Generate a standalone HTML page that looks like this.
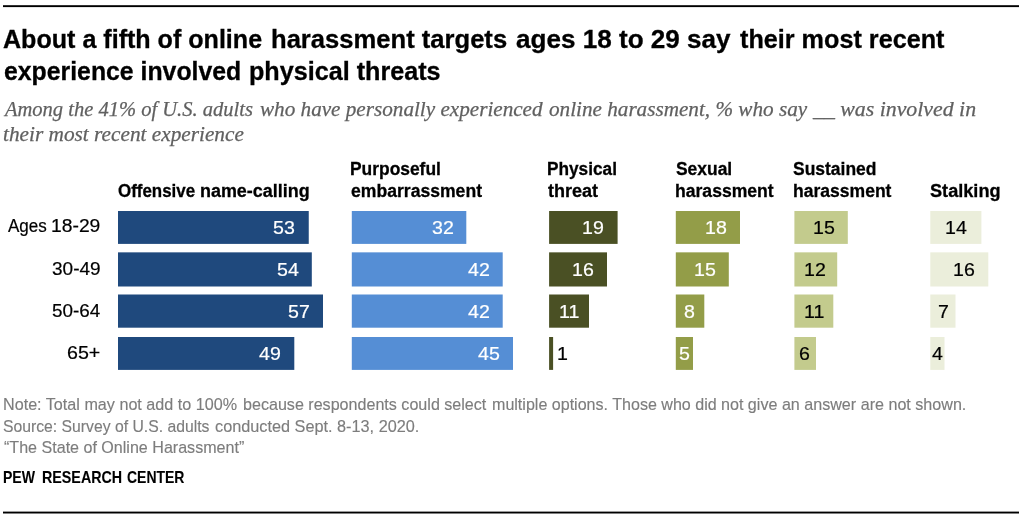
<!DOCTYPE html>
<html lang="en">
<head>
<meta charset="utf-8">
<title>About a fifth of online harassment targets ages 18 to 29 say their most recent experience involved physical threats</title>
<style>
html,body{margin:0;padding:0;background:#fff;}
body{width:1022px;height:519px;overflow:hidden;position:relative;font-family:"Liberation Sans", Arial, sans-serif;}
.chart{position:absolute;left:0;top:0;width:1022px;height:519px;overflow:hidden;will-change:transform;}
.bars{position:absolute;left:0;top:0;}
.t{position:absolute;white-space:nowrap;line-height:1;transform-origin:0 0;margin:0;padding:0;display:block;}
h1,p{margin:0;padding:0;font-size:inherit;font-weight:inherit;}
.title{font:normal 700 25.40px/1 "Liberation Sans", Arial, sans-serif;color:#000;-webkit-text-stroke:0.30px;}
.sub{font:italic 400 21.20px/1 "Liberation Serif", "DejaVu Serif", serif;color:#606060;-webkit-text-stroke:0.25px;}
.hdr{font:normal 700 18.30px/1 "Liberation Sans", Arial, sans-serif;color:#000;-webkit-text-stroke:0.30px;}
.row{font:normal 400 18.30px/1 "Liberation Sans", Arial, sans-serif;color:#000;-webkit-text-stroke:0.20px;}
.lab{font:normal 400 18.50px/1 "Liberation Sans", Arial, sans-serif;color:#fff;-webkit-text-stroke:0.20px;}
.note{font:normal 400 16.60px/1 "Liberation Sans", Arial, sans-serif;color:#7d7d7d;-webkit-text-stroke:0.15px;}
.pew{font:normal 700 16.50px/1 "Liberation Sans", Arial, sans-serif;color:#000;-webkit-text-stroke:0.10px;}
</style>
</head>
<body>
<div class="chart">
<svg class="bars" width="1022" height="519" viewBox="0 0 1022 519" aria-hidden="true"><rect x="3" y="5.20" width="1016" height="1.90" fill="#000"/><rect x="3" y="511.60" width="1016" height="1.90" fill="#000"/></svg>
<h1><span class="t title" style="left:3.00px;top:27.25px;transform:scaleX(0.9878);">About a fifth of online </span><span class="t title" style="left:270.99px;top:27.25px;transform:scaleX(1.0080);">harassment targets </span><span class="t title" style="left:515.50px;top:27.25px;transform:scaleX(1.0274);">ages 18 to 29 say </span><span class="t title" style="left:739.50px;top:27.25px;transform:scaleX(0.9925);">their most recent</span><span class="t title" style="left:3.75px;top:59.26px;transform:scaleX(0.9773);">experience involved </span><span class="t title" style="left:249.01px;top:59.26px;transform:scaleX(0.9911);">physical threats</span></h1>
<p><span class="t sub" style="left:4.84px;top:99.27px;transform:scaleX(0.9684);">Among the 41% of U.S. adults </span><span class="t sub" style="left:260.00px;top:99.27px;transform:scaleX(0.9986);">who have personally experienced </span><span class="t sub" style="left:548.75px;top:99.27px;transform:scaleX(0.9992);">online harassment, % who say </span><span class="t sub" style="left:813.03px;top:99.27px;transform:scaleX(1.0302);">__ was involved in</span><span class="t sub" style="left:3.00px;top:124.25px;transform:scaleX(1.0045);">their most recent experience</span></p>
<div class="plot">
<div class="t hdr" style="left:117.60px;top:182.25px;transform:scaleX(0.9249);">Offensive </div>
<div class="t hdr" style="left:199.52px;top:182.25px;transform:scaleX(0.9810);">name-calling</div>
<div class="t hdr" style="left:349.65px;top:160.26px;transform:scaleX(0.9518);">Purposeful</div>
<div class="t hdr" style="left:350.60px;top:182.25px;transform:scaleX(0.9620);">embarrassment</div>
<div class="t hdr" style="left:547.06px;top:160.26px;transform:scaleX(0.9430);">Physical</div>
<div class="t hdr" style="left:548.00px;top:182.25px;transform:scaleX(0.9861);">threat</div>
<div class="t hdr" style="left:675.60px;top:160.26px;transform:scaleX(0.9531);">Sexual</div>
<div class="t hdr" style="left:674.64px;top:182.25px;transform:scaleX(0.9617);">harassment</div>
<div class="t hdr" style="left:793.20px;top:160.26px;transform:scaleX(0.9548);">Sustained</div>
<div class="t hdr" style="left:792.64px;top:182.25px;transform:scaleX(0.9592);">harassment</div>
<div class="t hdr" style="left:929.60px;top:182.25px;transform:scaleX(0.9923);">Stalking</div>
<div><span class="t row" style="left:8.20px;top:217.26px;transform:scaleX(0.9319);">Ages </span><span class="t row" style="left:50.84px;top:217.26px;transform:scaleX(1.0551);">18-29</span></div>
<div class="t row" style="left:51.80px;top:260.25px;transform:scaleX(1.0389);">30-49</div>
<div class="t row" style="left:51.80px;top:302.25px;transform:scaleX(1.0324);">50-64</div>
<div class="t row" style="left:67.00px;top:344.26px;transform:scaleX(1.0747);">65+</div>
<svg class="bars" width="1022" height="519" viewBox="0 0 1022 519" aria-hidden="true">
<g fill="#1F497D">
<rect x="118.00" y="211.00" width="190.75" height="32.90"/>
<rect x="118.00" y="252.35" width="193.80" height="34.15"/>
<rect x="118.00" y="294.50" width="205.00" height="33.20"/>
<rect x="118.00" y="337.00" width="176.30" height="32.90"/>
</g>
<g fill="#558ED5">
<rect x="351.80" y="211.00" width="114.50" height="32.90"/>
<rect x="351.80" y="252.35" width="150.90" height="34.15"/>
<rect x="351.80" y="294.50" width="150.90" height="33.20"/>
<rect x="351.80" y="337.00" width="161.20" height="32.90"/>
</g>
<g fill="#4A5024">
<rect x="549.10" y="211.00" width="68.50" height="32.90"/>
<rect x="549.10" y="252.35" width="57.90" height="34.15"/>
<rect x="549.10" y="294.50" width="39.90" height="33.20"/>
<rect x="549.10" y="337.00" width="4.00" height="32.90"/>
</g>
<g fill="#939D48">
<rect x="675.80" y="211.00" width="64.20" height="32.90"/>
<rect x="675.80" y="252.35" width="53.00" height="34.15"/>
<rect x="675.80" y="294.50" width="28.50" height="33.20"/>
<rect x="675.80" y="337.00" width="17.20" height="32.90"/>
</g>
<g fill="#C3CB8D">
<rect x="794.40" y="211.00" width="53.40" height="32.90"/>
<rect x="794.40" y="252.35" width="42.80" height="34.15"/>
<rect x="794.40" y="294.50" width="38.90" height="33.20"/>
<rect x="794.40" y="337.00" width="21.60" height="32.90"/>
</g>
<g fill="#EBEEDB">
<rect x="930.30" y="211.00" width="51.10" height="32.90"/>
<rect x="930.30" y="252.35" width="58.00" height="34.15"/>
<rect x="930.30" y="294.50" width="25.20" height="33.20"/>
<rect x="930.30" y="337.00" width="14.20" height="32.90"/>
</g>
</svg>
<div class="t lab" style="left:273.49px;top:219.26px;transform:scaleX(1.0600);">53</div>
<div class="t lab" style="left:277.24px;top:261.26px;transform:scaleX(1.0600);">54</div>
<div class="t lab" style="left:287.74px;top:303.26px;transform:scaleX(1.0600);">57</div>
<div class="t lab" style="left:258.99px;top:345.26px;transform:scaleX(1.0600);">49</div>
<div class="t lab" style="left:431.74px;top:219.26px;transform:scaleX(1.0600);">32</div>
<div class="t lab" style="left:467.99px;top:261.26px;transform:scaleX(1.0600);">42</div>
<div class="t lab" style="left:467.99px;top:303.26px;transform:scaleX(1.0600);">42</div>
<div class="t lab" style="left:477.99px;top:345.26px;transform:scaleX(1.0600);">45</div>
<div class="t lab" style="left:582.49px;top:219.26px;transform:scaleX(1.0600);">19</div>
<div class="t lab" style="left:571.99px;top:261.26px;transform:scaleX(1.0600);">16</div>
<div class="t lab" style="left:558.82px;top:303.26px;transform:scaleX(1.0600);">11</div>
<div class="t lab" style="left:557.04px;top:345.26px;transform:scaleX(1.0600);color:#000;">1</div>
<div class="t lab" style="left:705.24px;top:219.26px;transform:scaleX(1.0600);">18</div>
<div class="t lab" style="left:693.99px;top:261.26px;transform:scaleX(1.0600);">15</div>
<div class="t lab" style="left:684.33px;top:303.26px;transform:scaleX(1.0600);">8</div>
<div class="t lab" style="left:678.70px;top:345.26px;transform:scaleX(1.0600);">5</div>
<div class="t lab" style="left:812.99px;top:219.26px;transform:scaleX(1.0600);color:#000;">15</div>
<div class="t lab" style="left:804.49px;top:261.26px;transform:scaleX(1.0600);color:#000;">12</div>
<div class="t lab" style="left:803.69px;top:303.26px;transform:scaleX(1.0600);color:#000;">11</div>
<div class="t lab" style="left:799.45px;top:345.26px;transform:scaleX(1.0600);color:#000;">6</div>
<div class="t lab" style="left:944.74px;top:219.26px;transform:scaleX(1.0600);color:#000;">14</div>
<div class="t lab" style="left:953.24px;top:261.26px;transform:scaleX(1.0600);color:#000;">16</div>
<div class="t lab" style="left:937.58px;top:303.26px;transform:scaleX(1.0600);color:#000;">7</div>
<div class="t lab" style="left:932.33px;top:345.26px;transform:scaleX(1.0600);color:#000;">4</div>
</div>
<div class="notes">
<p><span class="t note" style="left:2.93px;top:397.25px;transform:scaleX(0.9733);">Note: Total may not add to 100% </span><span class="t note" style="left:242.53px;top:397.25px;transform:scaleX(0.9698);">because respondents could select </span><span class="t note" style="left:491.53px;top:397.25px;transform:scaleX(0.9677);">multiple options. Those who did </span><span class="t note" style="left:721.28px;top:397.25px;transform:scaleX(0.9706);">not give an answer are not shown.</span><span class="t note" style="left:3.30px;top:419.25px;transform:scaleX(0.9486);">Source: Survey of U.S. adults </span><span class="t note" style="left:215.00px;top:419.25px;transform:scaleX(0.9801);">conducted Sept. 8-13, 2020.</span><span class="t note" style="left:4.00px;top:440.25px;transform:scaleX(0.9684);">“The State of Online Harassment”</span></p>
<p><span class="t pew" style="left:3.35px;top:469.26px;transform:scaleX(0.8511);">PEW </span><span class="t pew" style="left:42.13px;top:469.26px;transform:scaleX(0.8657);">RESEARCH </span><span class="t pew" style="left:126.90px;top:469.26px;transform:scaleX(0.8466);">CENTER</span></p>
</div>
</div>
</body>
</html>
